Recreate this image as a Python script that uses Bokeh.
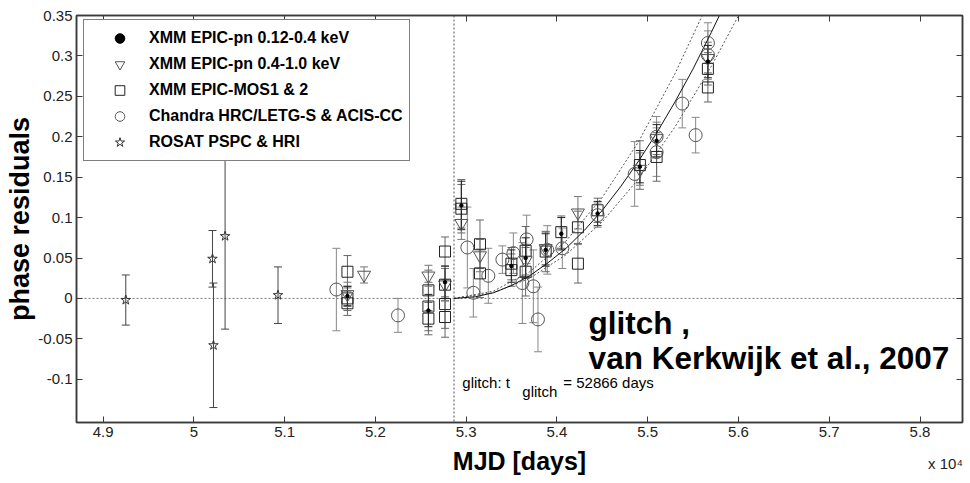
from bokeh.plotting import figure
from bokeh.models import (ColumnDataSource, Whisker, TeeHead, Span, Label, Legend, LegendItem,
                          LinearAxis, FixedTicker, Range1d)
from bokeh.embed import file_html
from bokeh.resources import INLINE

# ---------------- data (MJD in days, phase residuals) ----------------
T_GLITCH = 52866

rosat_mjd = [49250, 50205, 50216, 50344, 50927]
rosat_y = [-0.002, 0.049, -0.058, 0.077, 0.004]
rosat_err = [0.031, 0.035, 0.077, 0.115, 0.035]

chandra_mjd = [51570, 52249, 53013, 53079, 53244, 53399, 53520, 53666, 53619, 53740,
               53791, 53894, 54059, 54448, 54856, 55098, 55098, 55381, 55528, 55663, 55663]
chandra_y = [0.011, -0.021, 0.063, 0.007, 0.028, 0.048, 0.056, 0.073, 0.019, 0.015,
             -0.026, 0.060, 0.062, 0.103, 0.154, 0.200, 0.181, 0.241, 0.202, 0.316, 0.301]
chandra_err = [0.051, 0.021, 0.050, 0.030, 0.034, 0.017, 0.025, 0.030, 0.050, 0.045,
               0.040, 0.030, 0.025, 0.015, 0.040, 0.025, 0.030, 0.030, 0.022, 0.025, 0.030]

mos_mjd = [51692, 51692, 51692, 52584, 52584, 52584, 52767, 52767, 52767, 52767,
           52947, 52947, 53152, 53152, 53498, 53498, 53655, 53655, 53876, 54048,
           54231, 54231, 54448, 54914, 55098, 55663, 55663]
mos_y = [0.033, 0.000, -0.006, 0.010, -0.010, -0.025, 0.058, 0.017, -0.007, -0.023,
         0.117, 0.111, 0.067, 0.031, 0.035, 0.043, 0.059, 0.033, 0.058, 0.082,
         0.088, 0.043, 0.109, 0.165, 0.175, 0.284, 0.261]
mos_err = [0.020, 0.015, 0.015, 0.025, 0.030, 0.020, 0.018, 0.020, 0.030, 0.025,
           0.030, 0.030, 0.030, 0.030, 0.020, 0.020, 0.030, 0.030, 0.025, 0.020,
           0.020, 0.024, 0.015, 0.030, 0.030, 0.020, 0.018]

pnhard_mjd = [51692, 51875, 52584, 52767, 52947, 53152, 53655, 53876, 54231, 54914, 55098, 55663]
pnhard_y = [0.005, 0.029, 0.028, 0.017, 0.093, 0.053, 0.047, 0.062, 0.106, 0.160, 0.198, 0.297]
pnhard_err = [0.015, 0.010, 0.013, 0.020, 0.020, 0.020, 0.020, 0.020, 0.020, 0.020, 0.020, 0.020]

pnsoft_mjd = [51692, 52584, 52767, 52947, 53498, 53655, 53876, 54048, 54448, 54914, 55098, 55663]
pnsoft_y = [0.003, -0.015, 0.020, 0.115, 0.040, 0.050, 0.060, 0.080, 0.105, 0.163, 0.195, 0.293]
pnsoft_err = [0.012, 0.020, 0.020, 0.030, 0.020, 0.025, 0.020, 0.020, 0.015, 0.020, 0.020, 0.020]

# timing-model curves after the glitch
fit_mjd = [52866, 53100, 53300, 53500, 53700, 53900, 54100, 54300, 54500, 54700,
           54900, 55100, 55300, 55500, 55700, 55790]
fit_y = [0.000, 0.002, 0.007, 0.016, 0.028, 0.044, 0.062, 0.084, 0.109, 0.138,
         0.170, 0.205, 0.243, 0.284, 0.329, 0.350]
fit_hi_mjd = [52866, 53300, 53700, 54100, 54500, 54900, 55300, 55601]
fit_hi_y = [0.000, 0.009, 0.033, 0.071, 0.125, 0.194, 0.278, 0.350]
fit_lo_mjd = [52866, 53300, 53700, 54100, 54500, 54900, 55300, 55700, 56001]
fit_lo_y = [0.000, 0.007, 0.025, 0.054, 0.095, 0.148, 0.212, 0.287, 0.350]

x_tick_values = [49000, 50000, 51000, 52000, 53000, 54000, 55000, 56000, 57000, 58000]
x_tick_labels = ["4.9", "5", "5.1", "5.2", "5.3", "5.4", "5.5", "5.6", "5.7", "5.8"]
y_tick_values = [-0.1, -0.05, 0, 0.05, 0.1, 0.15, 0.2, 0.25, 0.3, 0.35]
y_tick_labels = ["-0.1", "-0.05", "0", "0.05", "0.1", "0.15", "0.2", "0.25", "0.3", "0.35"]
x_scale_note = "x 10\u2074"
x_scale_note_at = 58280

# ---------------- figure ----------------
FONT = "Liberation Sans"
FRAME = "#3a3a3a"

p = figure(width=970, height=483, output_backend="svg", toolbar_location=None,
           x_range=Range1d(48707, 58468), y_range=Range1d(-0.1535, 0.35),
           min_border_left=76, min_border_right=8, min_border_top=15, min_border_bottom=61)
p.grid.visible = False
p.outline_line_color = FRAME
p.outline_line_width = 1.5
p.background_fill_color = "white"
p.border_fill_color = "white"


def style_axis(ax, ticks, overrides, show_labels):
    ax.ticker = FixedTicker(ticks=ticks)
    ax.major_label_overrides = overrides
    ax.minor_tick_line_color = None
    ax.major_tick_in = 6
    ax.major_tick_out = 0
    ax.major_tick_line_color = FRAME
    ax.axis_line_color = FRAME
    ax.axis_line_width = 1.5
    ax.major_label_text_font = FONT
    ax.major_label_text_color = "#222222"
    ax.major_label_text_font_size = "15px" if show_labels else "0px"
    ax.major_label_standoff = 4 if show_labels else 0


xo = {v: l for v, l in zip(x_tick_values, x_tick_labels)}
yo = {v: l for v, l in zip(y_tick_values, y_tick_labels)}
style_axis(p.xaxis[0], x_tick_values, xo, True)
style_axis(p.yaxis[0], y_tick_values, yo, True)
p.yaxis[0].axis_label = "phase residuals"
p.yaxis[0].axis_label_text_font = FONT
p.yaxis[0].axis_label_text_font_size = "27px"
p.yaxis[0].axis_label_text_font_style = "bold"
p.yaxis[0].axis_label_text_color = "black"
p.yaxis[0].axis_label_standoff = 0

# second bottom axis: carries the "x 10^4" note and the x-axis title
note_ax = LinearAxis(ticker=FixedTicker(ticks=[x_scale_note_at]),
                     major_label_overrides={x_scale_note_at: x_scale_note},
                     major_tick_line_color=None, major_tick_in=0, major_tick_out=0,
                     minor_tick_line_color=None, axis_line_color=None,
                     major_label_text_font=FONT, major_label_text_font_size="15px",
                     major_label_text_color="#222222", major_label_standoff=15,
                     axis_label="MJD [days]", axis_label_text_font=FONT,
                     axis_label_text_font_size="25px", axis_label_text_font_style="bold",
                     axis_label_text_color="black", axis_label_standoff=-28)
p.add_layout(note_ax, "below")

top_ax = LinearAxis()
style_axis(top_ax, x_tick_values, {v: "" for v in x_tick_values}, False)
p.add_layout(top_ax, "above")
right_ax = LinearAxis()
style_axis(right_ax, y_tick_values, {v: "" for v in y_tick_values}, False)
p.add_layout(right_ax, "right")

# reference lines
p.add_layout(Span(location=0, dimension="width", line_color="#777777", line_width=1,
                  line_dash="2 2", level="underlay"))
p.add_layout(Span(location=T_GLITCH, dimension="height", line_color="#555555", line_width=1,
                  line_dash="2 2", level="underlay"))

# fit curves
p.line(fit_hi_mjd, fit_hi_y, line_color="#555555", line_width=1, line_dash="2 2")
p.line(fit_lo_mjd, fit_lo_y, line_color="#555555", line_width=1, line_dash="2 2")
p.line(fit_mjd, fit_y, line_color="#111111", line_width=1)


def add_series(mjd, y, err, marker, size, color, ecolor, fill=None):
    src = ColumnDataSource(dict(x=mjd, y=y,
                                lo=[a - b for a, b in zip(y, err)],
                                hi=[a + b for a, b in zip(y, err)]))
    w = Whisker(source=src, base="x", upper="hi", lower="lo", line_color=ecolor, line_width=1,
                upper_head=TeeHead(size=8, line_color=ecolor, line_width=1),
                lower_head=TeeHead(size=8, line_color=ecolor, line_width=1),
                level="underlay")
    p.add_layout(w)
    return p.scatter("x", "y", source=src, marker=marker, size=size, line_color=color,
                     fill_color=fill, line_width=1)


r_rosat = add_series(rosat_mjd, rosat_y, rosat_err, "star", 10, "#333333", "#444444")
r_chandra = add_series(chandra_mjd, chandra_y, chandra_err, "circle", 13, "#555555", "#888888")
r_mos = add_series(mos_mjd, mos_y, mos_err, "square", 11, "#222222", "#666666")
r_pnhard = add_series(pnhard_mjd, pnhard_y, pnhard_err, "inverted_triangle", 13, "#555555", "#777777")
r_pnsoft = add_series(pnsoft_mjd, pnsoft_y, pnsoft_err, "circle", 3.5, "black", "#222222", fill="black")

legend = Legend(items=[
    LegendItem(label="XMM EPIC-pn 0.12-0.4 keV", renderers=[r_pnsoft]),
    LegendItem(label="XMM EPIC-pn 0.4-1.0 keV", renderers=[r_pnhard]),
    LegendItem(label="XMM EPIC-MOS1 & 2", renderers=[r_mos]),
    LegendItem(label="Chandra HRC/LETG-S & ACIS-CC", renderers=[r_chandra]),
    LegendItem(label="ROSAT PSPC & HRI", renderers=[r_rosat]),
], location=(7, 261), orientation="vertical", padding=6, spacing=2, margin=0,
    glyph_width=59, glyph_height=24, label_height=24, label_standoff=0,
    label_text_font=FONT, label_text_font_size="16px", label_text_font_style="bold",
    label_text_color="black", border_line_color="black", border_line_width=1,
    background_fill_color="white", background_fill_alpha=1)
p.add_layout(legend)

# annotations
def add_label(x, y, text, size, style="normal"):
    p.add_layout(Label(x=x, y=y, text=text, text_font=FONT, text_font_size=size,
                       text_font_style=style, text_color="black", text_baseline="middle",
                       text_align="left"))

add_label(52958, -0.1034, "glitch: t", "15px")
add_label(53619, -0.1154, "glitch", "15px")
add_label(54070, -0.1034, "= 52866 days", "15px")
add_label(54349, -0.0305, "glitch ,", "31.5px", "bold")
add_label(54349, -0.0738, "van Kerkwijk et al., 2007", "31.5px", "bold")

open("out.html", "w").write(file_html(p, INLINE))
